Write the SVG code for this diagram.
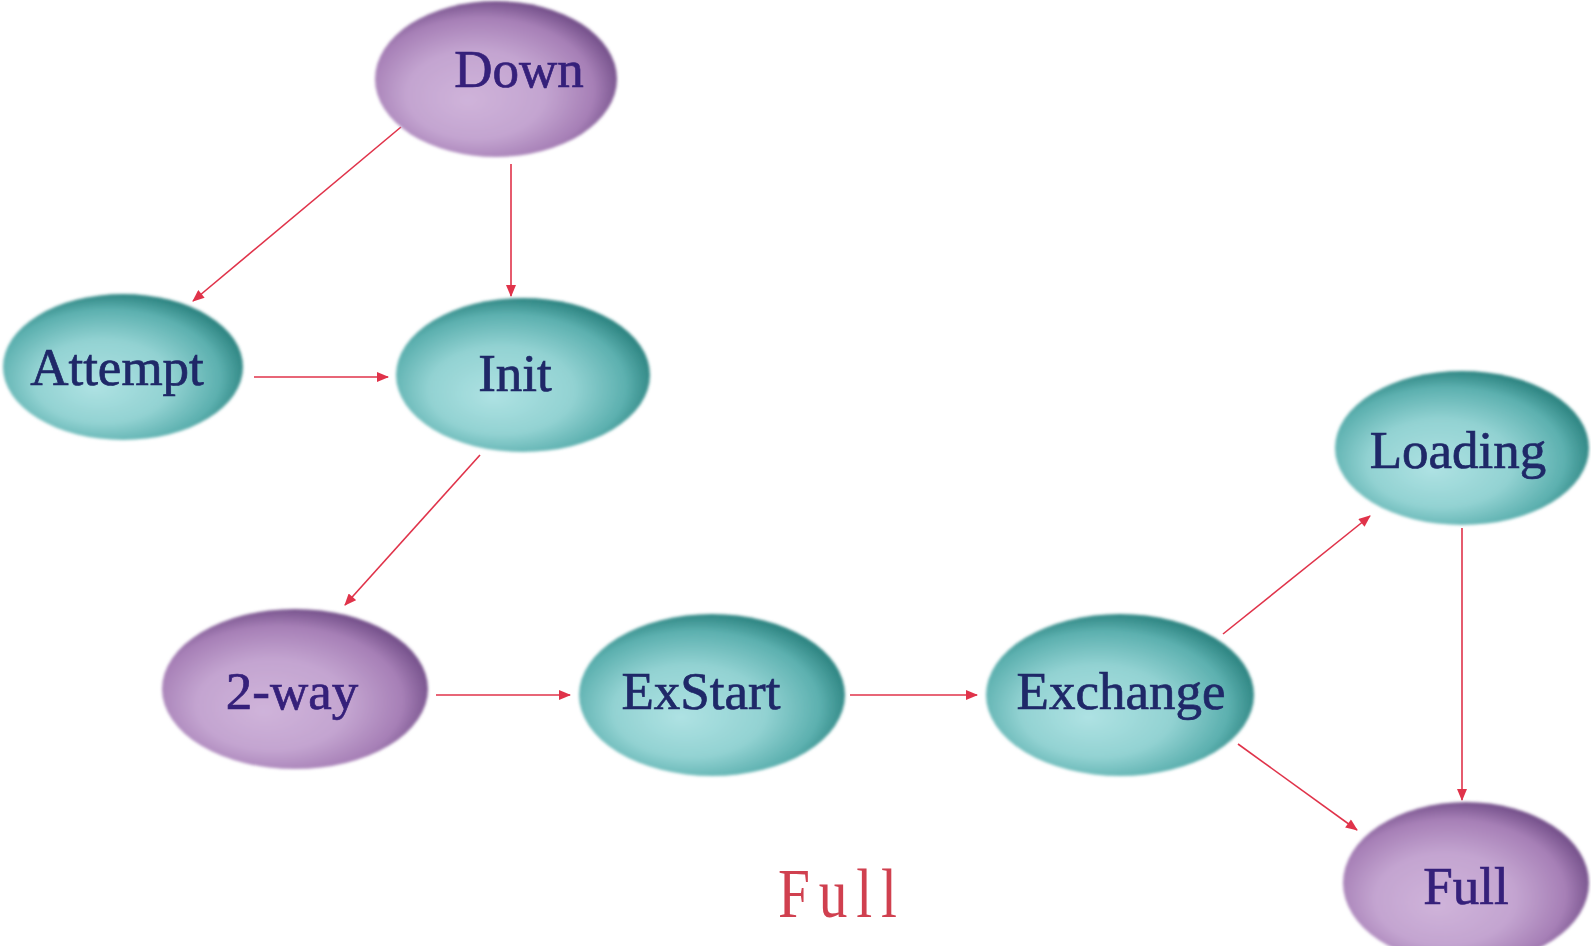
<svg xmlns="http://www.w3.org/2000/svg" width="1591" height="946" viewBox="0 0 1591 946">
<defs>
<radialGradient id="gTeal" cx="0.45" cy="0.56" r="0.57" fx="0.38" fy="0.64">
<stop offset="0" stop-color="#aee2e3"/>
<stop offset="0.5" stop-color="#92d2d2"/>
<stop offset="0.82" stop-color="#5cb0af"/>
<stop offset="1" stop-color="#2c8380"/>
</radialGradient>
<radialGradient id="gPurple" cx="0.45" cy="0.56" r="0.57" fx="0.38" fy="0.64">
<stop offset="0" stop-color="#cfb3da"/>
<stop offset="0.5" stop-color="#c3a4d0"/>
<stop offset="0.82" stop-color="#a67fb6"/>
<stop offset="1" stop-color="#74508a"/>
</radialGradient>
<filter id="soft" x="-10%" y="-10%" width="120%" height="120%">
<feGaussianBlur stdDeviation="1.6"/>
</filter>
<marker id="ah" viewBox="0 0 12 10" refX="11" refY="5" markerWidth="13" markerHeight="10" markerUnits="userSpaceOnUse" orient="auto">
<path d="M0,0 L12,5 L0,10 Z" fill="#e0334a"/>
</marker>
</defs>
<style>
.teal{fill:url(#gTeal);filter:url(#soft)}
.purple{fill:url(#gPurple);filter:url(#soft)}
.lbl{font-family:"Liberation Serif","Times New Roman",serif;font-size:53px;text-anchor:middle;stroke-width:0.7px}
.tl{fill:#1f2868;stroke:#1f2868}
.pl{fill:#35207a;stroke:#35207a}
.conn line{stroke:#e0334a;stroke-width:1.6;fill:none;marker-end:url(#ah)}
.title{font-family:"Liberation Serif","Times New Roman",serif;font-size:70px;fill:#d0404f}
</style>
<rect width="1591" height="946" fill="#ffffff"/>
<g id="connectors" class="conn">
<line x1="401" y1="127" x2="193" y2="301"/>
<line x1="511" y1="164" x2="511" y2="296"/>
<line x1="254" y1="377" x2="388" y2="377"/>
<line x1="480" y1="455" x2="345" y2="605"/>
<line x1="436" y1="695" x2="570" y2="695"/>
<line x1="850" y1="695" x2="977" y2="695"/>
<line x1="1223" y1="634" x2="1370" y2="516"/>
<line x1="1238" y1="744" x2="1357" y2="830"/>
<line x1="1462" y1="528" x2="1462" y2="800"/>
</g>
<g id="node-down">
<ellipse class="purple" cx="496" cy="79" rx="121" ry="78"/>
<text class="lbl pl" x="519" y="87">Down</text>
</g>
<g id="node-attempt">
<ellipse class="teal" cx="123" cy="367" rx="120" ry="73"/>
<text class="lbl tl" x="117" y="385">Attempt</text>
</g>
<g id="node-init">
<ellipse class="teal" cx="523" cy="375" rx="127" ry="77"/>
<text class="lbl tl" x="515" y="391">Init</text>
</g>
<g id="node-loading">
<ellipse class="teal" cx="1462" cy="448" rx="127" ry="77"/>
<text class="lbl tl" x="1458" y="468">Loading</text>
</g>
<g id="node-2way">
<ellipse class="purple" cx="295" cy="689" rx="133" ry="80"/>
<text class="lbl pl" x="292" y="709">2-way</text>
</g>
<g id="node-exstart">
<ellipse class="teal" cx="712" cy="695" rx="133" ry="81"/>
<text class="lbl tl" x="701" y="709">ExStart</text>
</g>
<g id="node-exchange">
<ellipse class="teal" cx="1120" cy="695" rx="134" ry="81"/>
<text class="lbl tl" x="1121" y="709">Exchange</text>
</g>
<g id="node-full">
<ellipse class="purple" cx="1466" cy="883" rx="123" ry="81"/>
<text class="lbl pl" x="1466" y="904">Full</text>
</g>
<text class="title" transform="translate(778,917) scale(0.82,1)" x="0" y="0" textLength="145" lengthAdjust="spacing">Full</text>
</svg>
